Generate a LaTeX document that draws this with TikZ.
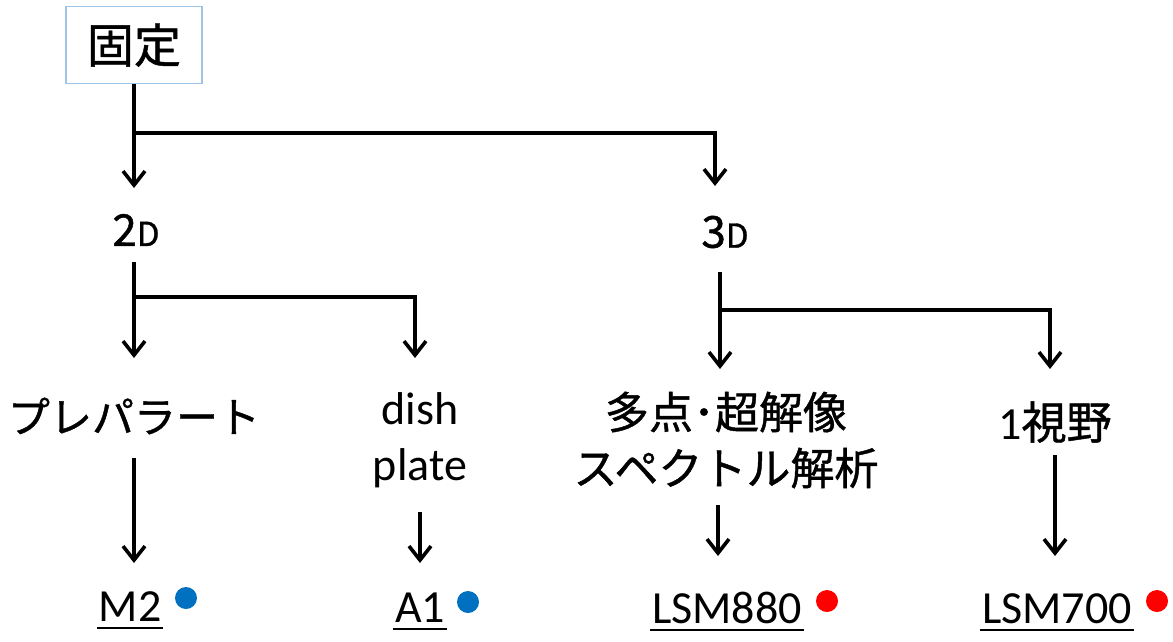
\documentclass[tikz,border=0pt]{standalone}
\usepackage{fontspec}
\setmainfont{Carlito}
\newfontfamily\jp[FakeBold=1]{Noto Sans CJK JP}
\usetikzlibrary{arrows.meta}
\definecolor{boxblue}{RGB}{157,195,230}
\definecolor{dotblue}{RGB}{0,112,192}
\definecolor{dotred}{RGB}{255,0,0}
\begin{document}
\begin{tikzpicture}[x=1pt,y=-1pt,line width=3.6pt,
  arr/.style={-{Straight Barb[length=14pt,width=22pt]}},
  lbl/.style={inner sep=0pt,font=\jp\fontsize{42}{56}\selectfont,align=center},
  lat/.style={inner sep=0pt,font=\fontsize{46}{56}\selectfont,align=center},
  inst/.style={inner sep=0pt,anchor=base,font=\fontsize{46}{50}\selectfont},
  uline/.style={line width=2.5pt},
  dotb/.style={fill=dotblue,draw=none},
  dotr/.style={fill=dotred,draw=none}]
\useasboundingbox (0,0) rectangle (1173,641);

% nodes
\node[draw=boxblue,line width=1.5pt,minimum width=136pt,minimum height=77pt,inner sep=0pt,
      font=\jp\fontsize{47}{50}\selectfont] (kotei) at (134,45) {固定};
\node[inner sep=0pt] (d2) at (136,230) {\jp{\fontsize{44}{50}\selectfont 2}{\fontsize{33}{40}\selectfont D}};
\node[inner sep=0pt] (d3) at (725,232) {\jp{\fontsize{44}{50}\selectfont 3}{\fontsize{33}{40}\selectfont D}};
\node[lbl] (prep) at (134,416) {プレパラート};
\node[lat] (dish) at (420,440) {dish\\plate};
\node[lbl,font=\jp\fontsize{44}{56}\selectfont] (multi) at (726,440) {多点･超解像\\スペクトル解析};
\node[inner sep=0pt] (one) at (1055,422) {{\fontsize{46}{50}\selectfont 1}{\jp\fontsize{45}{50}\selectfont 視野}};

\node[inst] (m2) at (130,621) {M2};
\node[inst] (a1) at (420,622) {A1};
\node[inst] (l880) at (727,623) {LSM880};
\node[inst] (l700) at (1057,623) {LSM700};

% underlines
\foreach \n in {m2,a1,l880,l700}{
  \draw[uline] ([yshift=-7pt]\n.base west) -- ([yshift=-7pt]\n.base east);
}
% dots
\fill[dotb] (186,598) circle[radius=11pt];
\fill[dotb] (468,602) circle[radius=11pt];
\fill[dotr] (827,601) circle[radius=11pt];
\fill[dotr] (1157,601) circle[radius=11pt];

% coordinates
\coordinate (t2d) at (134,188);
\coordinate (j1) at (134,133);
\coordinate (t3d) at (715,186);
\coordinate (s2) at (134,262);
\coordinate (t2a) at (134,358);
\coordinate (j2) at (134,297);
\coordinate (t2b) at (415,358);
\coordinate (s3) at (720,272);
\coordinate (t3a) at (720,369);
\coordinate (j3) at (720,310);
\coordinate (t3b) at (1050,369);

% connectors
\draw[arr] (kotei.south) -- (t2d);
\draw[arr] (j1) -| (t3d);
\draw[arr] (s2) -- (t2a);
\draw[arr] (j2) -| (t2b);
\draw[arr] (s3) -- (t3a);
\draw[arr] (j3) -| (t3b);

\draw[arr] (134,458) -- (134,563);
\draw[arr] (420,512) -- (420,563);
\draw[arr] (718,505) -- (718,556);
\draw[arr] (1055,455) -- (1055,556);
\end{tikzpicture}
\end{document}
